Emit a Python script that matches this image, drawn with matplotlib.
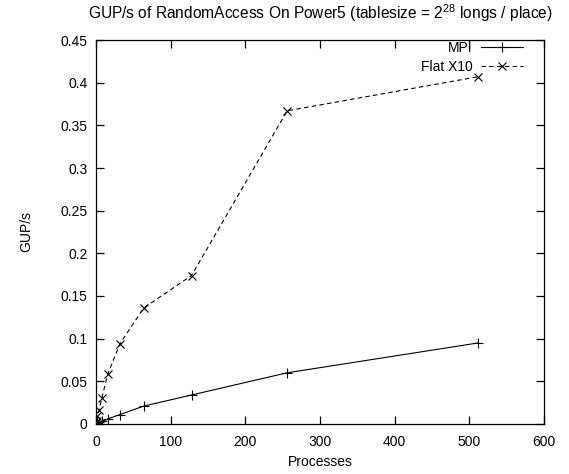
import matplotlib
matplotlib.use('Agg')
import matplotlib.pyplot as plt

plt.rcParams['font.family'] = ['Liberation Sans', 'DejaVu Sans']
plt.rcParams['font.size'] = 10

procs = [1, 2, 4, 8, 16, 32, 64, 128, 256, 512]
mpi = [0.0008, 0.0015, 0.002, 0.003, 0.006, 0.011, 0.021, 0.034, 0.060, 0.095]
x10 = [0.004, 0.009, 0.016, 0.031, 0.059, 0.094, 0.136, 0.174, 0.367, 0.407]

fig = plt.figure(figsize=(5.69, 4.74), dpi=100)
ax = fig.add_axes([0.1687, 0.1055, 0.7873, 0.8101])

ax.plot(procs, mpi, '-', color='black', lw=0.8, marker='+', ms=6.5, mew=0.8, label='MPI')
ax.plot(procs, x10, '--', color='black', lw=0.8, marker='x', ms=5.5, mew=0.8,
        dashes=(4, 3), label='Flat X10')

ax.set_xlim(0, 600)
ax.set_ylim(0, 0.45)
ax.set_xticks(range(0, 601, 100))
ax.set_yticks([0, 0.05, 0.1, 0.15, 0.2, 0.25, 0.3, 0.35, 0.4, 0.45])
ax.set_yticklabels(['0', '0.05', '0.1', '0.15', '0.2', '0.25', '0.3', '0.35', '0.4', '0.45'])
ax.tick_params(direction='in', top=True, right=True, length=6, width=0.9)
ax.tick_params(axis='x', pad=8)
ax.tick_params(axis='y', pad=6)
for s in ax.spines.values():
    s.set_linewidth(0.9)

ax.set_xlabel('Processes', labelpad=4)
ax.set_ylabel('GUP/s', labelpad=20)
ax.set_title('GUP/s of RandomAccess On Power5 (tablesize = $\\mathregular{2^{28}}$ longs / place)',
             fontsize=11.2, pad=15)

leg = ax.legend(loc='upper right', bbox_to_anchor=(0.965, 1.012), frameon=False,
                markerfirst=False, handlelength=3.0, borderaxespad=0,
                labelspacing=0.35, handletextpad=0.6)

fig.savefig('out.png', dpi=100)
